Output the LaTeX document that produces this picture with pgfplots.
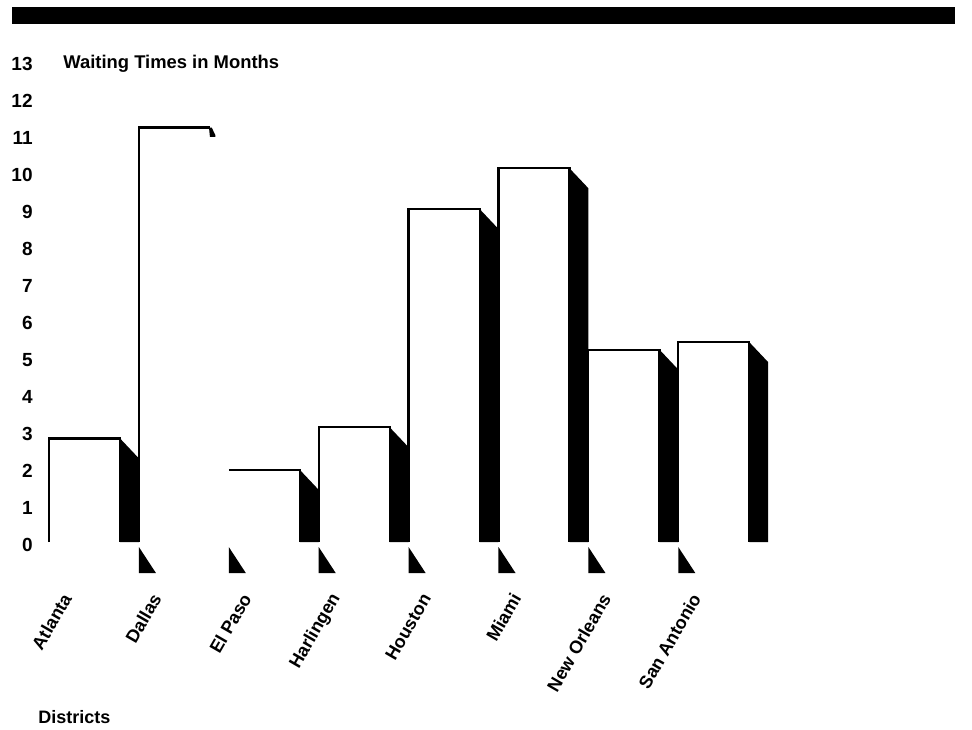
\documentclass[border=0pt]{standalone}
\usepackage{fontspec}
\setmainfont{Liberation Sans}
\usepackage{pgfplots}
\pgfplotsset{compat=1.18}
\begin{document}
\begin{tikzpicture}[x=1pt,y=1pt]
\useasboundingbox (0,0) rectangle (486,364.5);
\fill[black] (6,352.5) rectangle (477.5,361);
\begin{axis}[
  at={(20pt,93.5pt)}, anchor=south west,
  scale only axis, width=386.57pt, height=249.75pt,
  xmin=-0.1, xmax=8.5, ymin=0, ymax=13.5,
  clip=false,
  axis line style={draw=none},
  major tick length=0pt,
  ytick={0,...,13},
  xtick={0.2,1.2,2.2,3.2,4.2,5.2,6.2,7.2},
  xticklabels={Atlanta,Dallas,El Paso,Harlingen,Houston,Miami,New Orleans,San Antonio},
  xticklabel style={font=\fontsize{9}{11}\selectfont\bfseries},
  yticklabel style={font=\fontsize{9.5}{11}\selectfont\bfseries},
  yticklabel style={anchor=east, inner sep=0pt, xshift=-3.5pt, yshift=-1.5pt},
  xticklabel style={inner sep=0pt, yshift=-26.5pt, rotate=60, anchor=east},
  /pgf/number format/assume math mode=true,
  every axis plot/.append style={line width=1.1pt, line join=miter, mark=none},
]
% bar outlines (white bars)
\addplot[black] coordinates {(0,0) (0,2.8) (0.79,2.8) (0.79,0)};
\addplot[black] coordinates {(1,0) (1,11.2) (1.79,11.2)};
\addplot[black] coordinates {(2,1.95) (2.79,1.95) (2.79,0)};
\addplot[black] coordinates {(3,0) (3,3.1) (3.79,3.1) (3.79,0)};
\addplot[black] coordinates {(4,0) (4,9.0) (4.79,9.0) (4.79,0)};
\addplot[black] coordinates {(5,0) (5,10.1) (5.79,10.1) (5.79,0)};
\addplot[black] coordinates {(6,0) (6,5.2) (6.79,5.2) (6.79,0)};
\addplot[black] coordinates {(7,0) (7,5.4) (7.79,5.4) (7.79,0)};
% shadows
\addplot[fill=black, draw=none] coordinates {(0.79,0) (0.79,2.8) (1,2.26) (1,0)} -- cycle;
\addplot[fill=black, draw=none] coordinates {(1.78,11.2) (1.81,11.2) (1.85,11.0) (1.85,10.95) (1.79,10.95)} -- cycle;
\addplot[fill=black, draw=none] coordinates {(2.79,0) (2.79,1.95) (3,1.41) (3,0)} -- cycle;
\addplot[fill=black, draw=none] coordinates {(3.79,0) (3.79,3.1) (4,2.56) (4,0)} -- cycle;
\addplot[fill=black, draw=none] coordinates {(4.79,0) (4.79,9.0) (5,8.46) (5,0)} -- cycle;
\addplot[fill=black, draw=none] coordinates {(5.79,0) (5.79,10.1) (6,9.56) (6,0)} -- cycle;
\addplot[fill=black, draw=none] coordinates {(6.79,0) (6.79,5.2) (7,4.66) (7,0)} -- cycle;
\addplot[fill=black, draw=none] coordinates {(7.79,0) (7.79,5.4) (8,4.86) (8,0)} -- cycle;
% tick shadows below the axis
\addplot[fill=black, draw=none] coordinates {(1,-0.135) (1,-0.84) (1.19,-0.84)} -- cycle;
\addplot[fill=black, draw=none] coordinates {(2,-0.135) (2,-0.84) (2.19,-0.84)} -- cycle;
\addplot[fill=black, draw=none] coordinates {(3,-0.135) (3,-0.84) (3.19,-0.84)} -- cycle;
\addplot[fill=black, draw=none] coordinates {(4,-0.135) (4,-0.84) (4.19,-0.84)} -- cycle;
\addplot[fill=black, draw=none] coordinates {(5,-0.135) (5,-0.84) (5.19,-0.84)} -- cycle;
\addplot[fill=black, draw=none] coordinates {(6,-0.135) (6,-0.84) (6.19,-0.84)} -- cycle;
\addplot[fill=black, draw=none] coordinates {(7,-0.135) (7,-0.84) (7.19,-0.84)} -- cycle;
\end{axis}
\node[anchor=base west, inner sep=0pt, font=\fontsize{9.2}{11}\selectfont\bfseries] at (31.5,330) {Waiting Times in Months};
\node[anchor=base west, inner sep=0pt, font=\fontsize{9}{11}\selectfont\bfseries] at (19,3) {Districts};
\end{tikzpicture}
\end{document}
